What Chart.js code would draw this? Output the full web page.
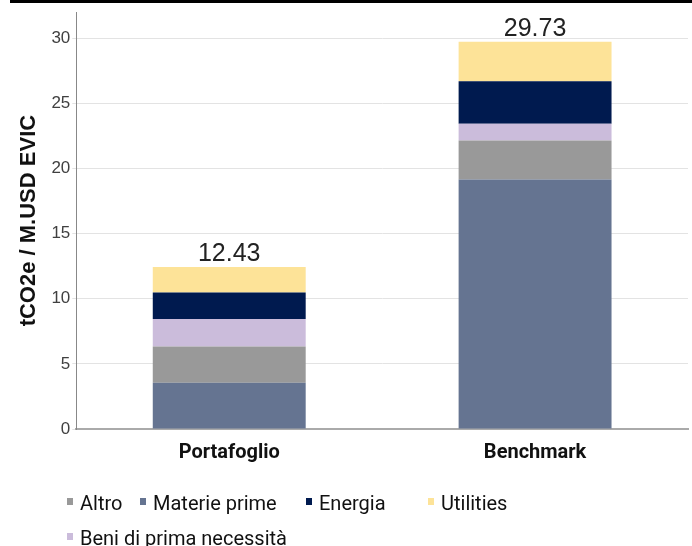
<!DOCTYPE html>
<html>
<head>
<meta charset="utf-8">
<script src="https://cdn.jsdelivr.net/npm/chart.js@4/dist/chart.umd.min.js"></script>
<style>
  body { margin: 0; background: #fff; }
  #wrap { position: relative; width: 692px; height: 546px; }
  #topline { position: absolute; left: 10px; right: 0; top: 0; height: 3px; background: #000; }
  #chartBox { position: absolute; left: 0; top: 0; width: 692px; height: 477px; }
  #legend { position: absolute; left: 0; top: 0; width: 692px; height: 546px; pointer-events: none;
            font-family: Roboto, "Liberation Sans", sans-serif; font-size: 20px; color: #111; }
  .box { position: absolute; width: 6px; height: 7px; }
  .txt { position: absolute; white-space: nowrap; line-height: 20px; }
</style>
</head>
<body>
<div id="wrap">
  <div id="chartBox"><canvas id="c"></canvas></div>
  <div id="topline"></div>
  <div id="legend"></div>
</div>
<script>
// dati del grafico
const categories = ['Portafoglio', 'Benchmark'];
const materiePrime = [3.56, 19.15];
const altro = [2.77, 3.00];
const beniPrimaNecessita = [2.11, 1.29];
const energia = [2.04, 3.26];
const utilities = [1.95, 3.03];
const totals = [12.43, 29.73];
const yTicks = [0, 5, 10, 15, 20, 25, 30];

// ordine della legenda (come nell'originale)
const legendOrder = ['Altro', 'Materie prime', 'Energia', 'Utilities', 'Beni di prima necessità'];
const legendPos = [[67, 498], [140, 498], [306, 498], [428, 498], [67, 533]];

const datasets = [
    { label: 'Materie prime', data: materiePrime, backgroundColor: '#657491' },
    { label: 'Altro', data: altro, backgroundColor: '#999999' },
    { label: 'Beni di prima necessità', data: beniPrimaNecessita, backgroundColor: '#cbbcdb' },
    { label: 'Energia', data: energia, backgroundColor: '#001a4f' },
    { label: 'Utilities', data: utilities, backgroundColor: '#fde398' }
];

// plugin per i totali sopra le barre
const totalLabels = {
    id: 'totalLabels',
    afterDatasetsDraw(chart) {
        const ctx = chart.ctx;
        const lastMeta = chart.getDatasetMeta(chart.data.datasets.length - 1);
        ctx.save();
        ctx.font = '25px "Liberation Sans", Arial, sans-serif';
        ctx.fillStyle = '#222';
        ctx.textAlign = 'center';
        ctx.textBaseline = 'alphabetic';
        lastMeta.data.forEach((bar, i) => {
            ctx.fillText(totals[i].toFixed(2), bar.x, bar.y - 6);
        });
        ctx.restore();
    }
};

new Chart(document.getElementById('c'), {
    type: 'bar',
    data: {
        labels: categories,
        datasets: datasets.map(d => Object.assign({
            categoryPercentage: 1.0,
            barPercentage: 0.5,
            borderWidth: 0
        }, d))
    },
    options: {
        responsive: true,
        maintainAspectRatio: false,
        animation: false,
        layout: { padding: { top: 12, right: 4, left: 16, bottom: 0 } },
        plugins: {
            legend: { display: false },
            tooltip: { enabled: false }
        },
        scales: {
            x: {
                stacked: true,
                grid: { display: false, drawTicks: false },
                border: { color: '#aaaaaa', width: 2 },
                ticks: {
                    color: '#111',
                    padding: 12,
                    font: { family: 'Roboto, "Liberation Sans", sans-serif', size: 20, weight: 'bold' }
                }
            },
            y: {
                stacked: true,
                min: 0,
                max: 32,
                afterBuildTicks: axis => { axis.ticks = yTicks.map(v => ({ value: v })); },
                grid: { color: '#e3e3e3', drawTicks: true, tickLength: 4 },
                border: { color: '#888888', width: 1 },
                ticks: {
                    color: '#404040',
                    padding: 2,
                    font: { family: '"Liberation Sans", Arial, sans-serif', size: 17 }
                },
                title: {
                    display: true,
                    text: 'tCO2e / M.USD EVIC',
                    color: '#111',
                    padding: { top: 0, bottom: 7 },
                    font: { family: '"Liberation Sans", Arial, sans-serif', size: 22, weight: 'bold' }
                }
            }
        }
    },
    plugins: [totalLabels]
});

// legenda HTML
const legendEl = document.getElementById('legend');
legendOrder.forEach((name, i) => {
    const ds = datasets.find(d => d.label === name);
    const box = document.createElement('div');
    box.className = 'box';
    box.style.left = legendPos[i][0] + 'px';
    box.style.top = legendPos[i][1] + 'px';
    box.style.background = ds.backgroundColor;
    legendEl.appendChild(box);
    const txt = document.createElement('div');
    txt.className = 'txt';
    txt.style.left = (legendPos[i][0] + 13) + 'px';
    txt.style.top = (legendPos[i][1] - 5) + 'px';
    txt.textContent = name;
    legendEl.appendChild(txt);
});
</script>
</body>
</html>
